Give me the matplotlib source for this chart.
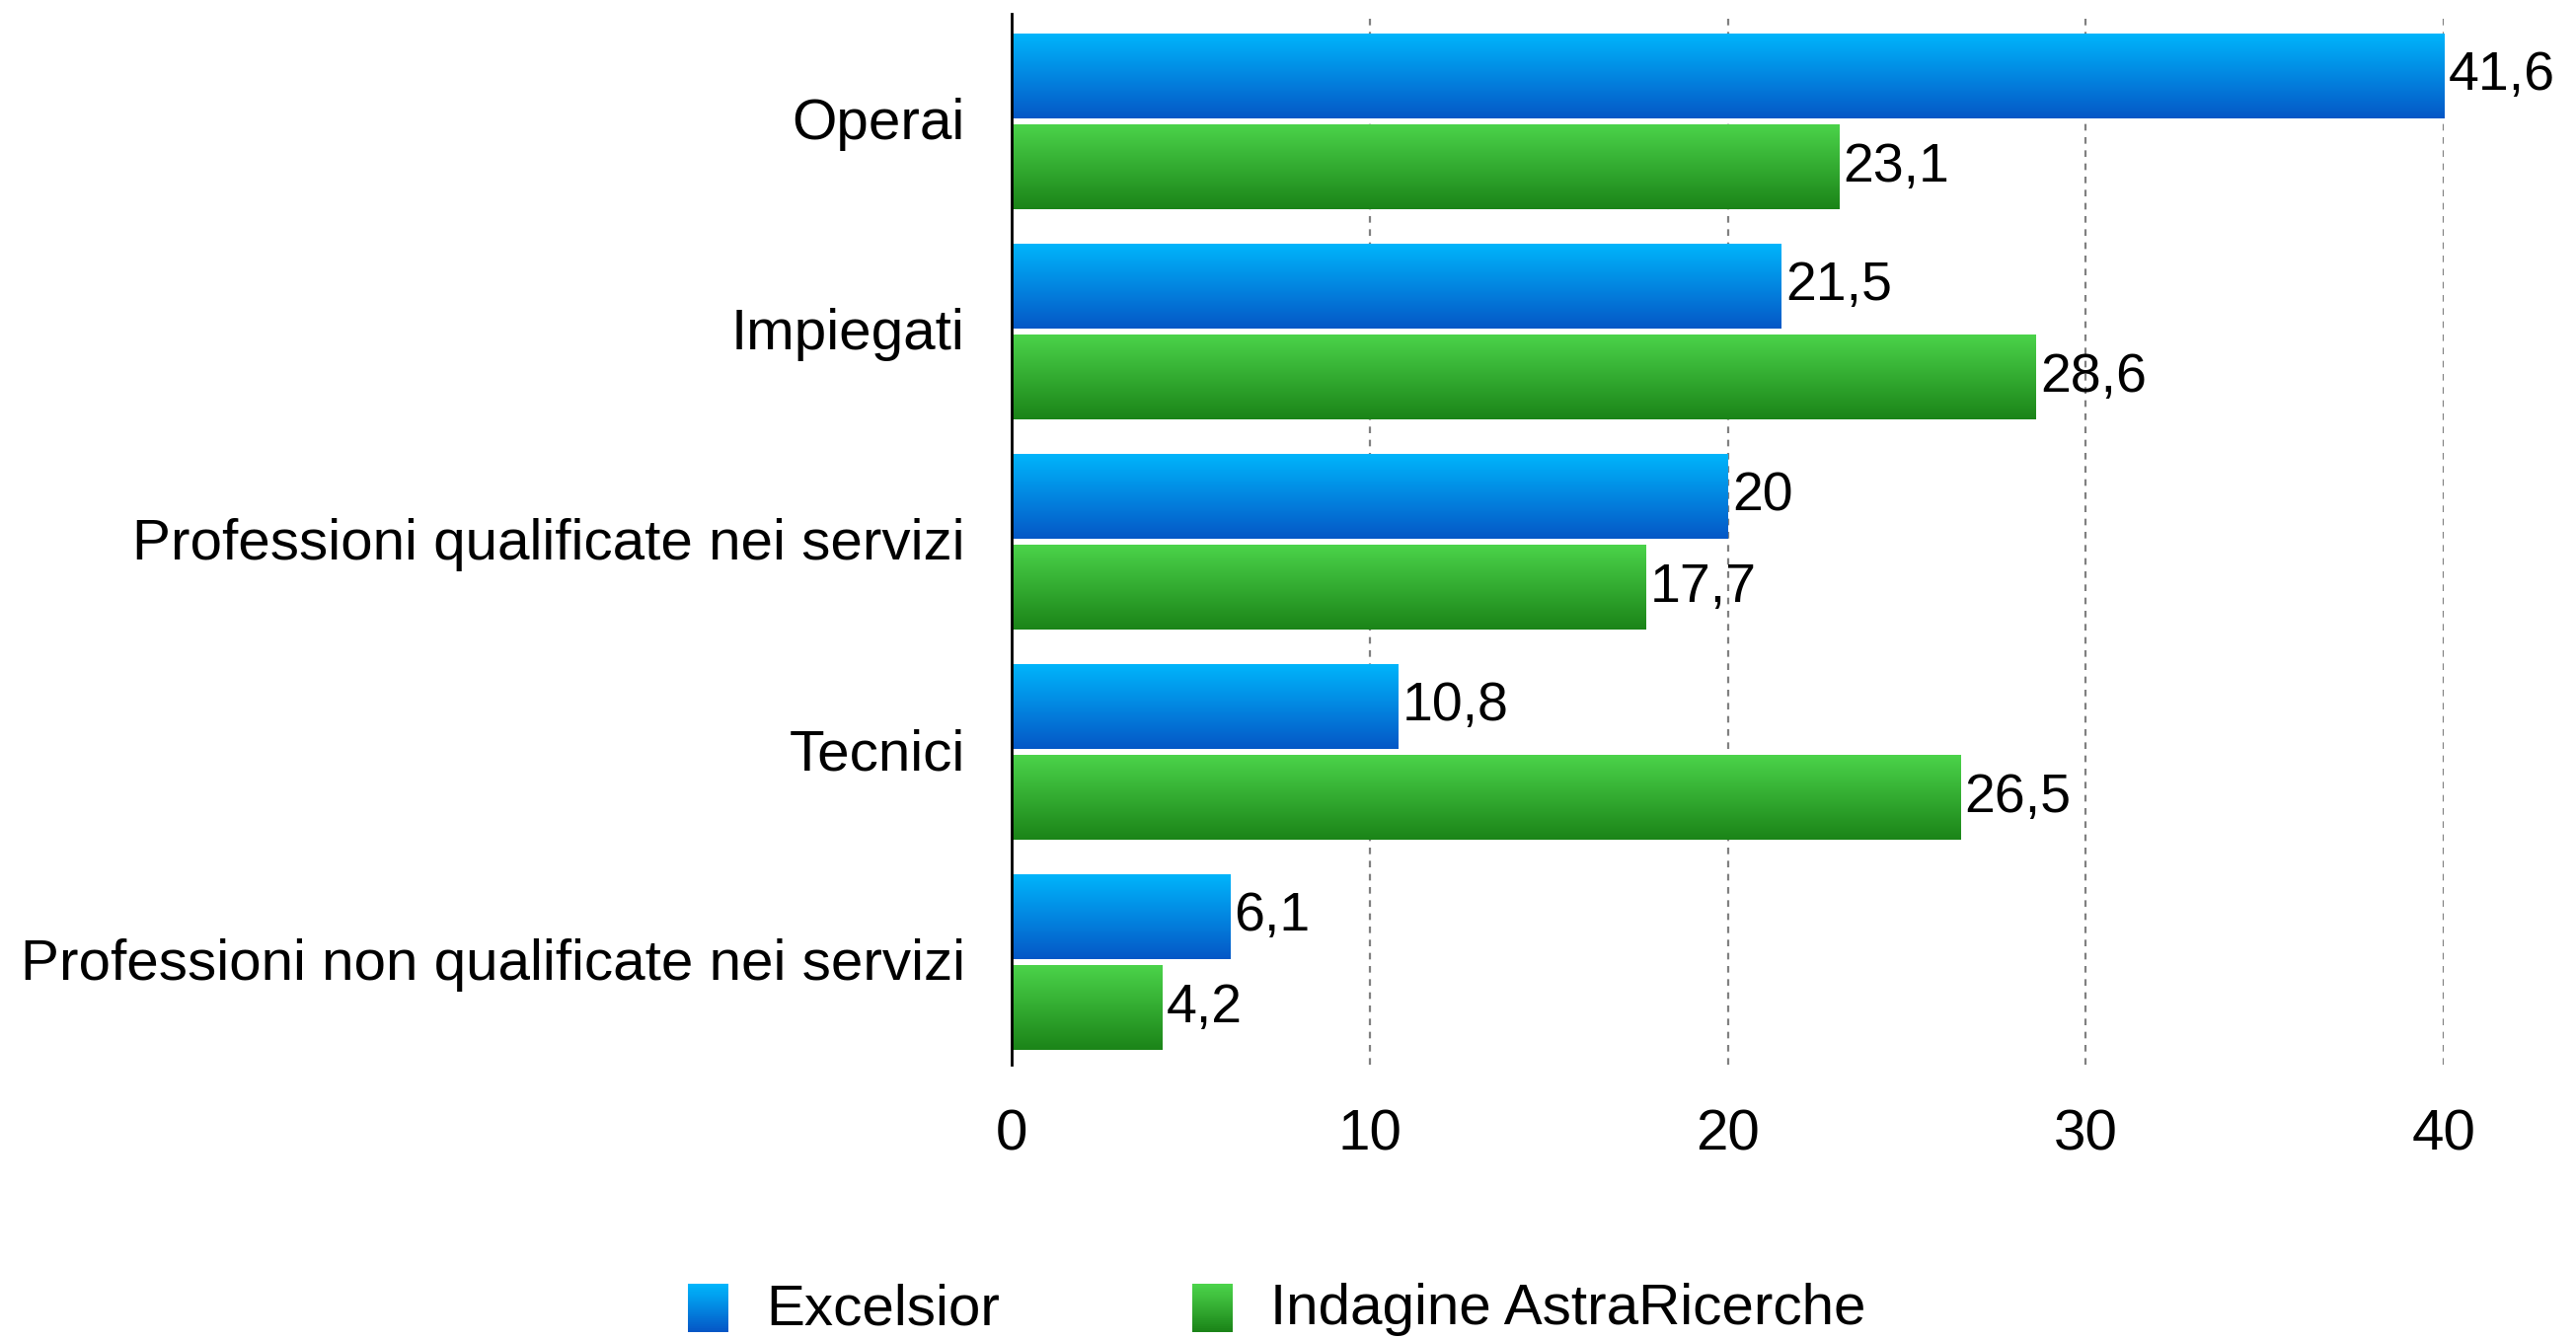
import numpy as np
import matplotlib.pyplot as plt
from matplotlib.colors import LinearSegmentedColormap
from matplotlib.patches import Rectangle
from matplotlib.legend_handler import HandlerBase

plt.rcParams["font.family"] = ["Liberation Sans", "DejaVu Sans"]

# --------------------------------------------------------------------------
# dati
# --------------------------------------------------------------------------
categories = [
    "Operai",
    "Impiegati",
    "Professioni qualificate nei servizi",
    "Tecnici",
    "Professioni non qualificate nei servizi",
]
excelsior = [41.6, 21.5, 20, 10.8, 6.1]
astraricerche = [23.1, 28.6, 17.7, 26.5, 4.2]
series_names = ["Excelsior", "Indagine AstraRicerche"]
x_ticks = [0, 10, 20, 30, 40]

# gradienti (alto -> basso)
blue_grad = ("#00b5fb", "#0557c6")
green_grad = ("#4bd34a", "#1b8418")

X_MAX = 40
BAR_H = 0.40
OFFSET = 0.217
SHIFT = 0.015


def fmt(v):
    return f"{v:g}".replace(".", ",")


def gradient_bars(ax, ys, vals, grad):
    cmap = LinearSegmentedColormap.from_list("g", [grad[0], grad[1]])
    grad_img = np.linspace(0, 1, 256).reshape(-1, 1)
    bars = ax.barh(ys, vals, height=BAR_H, color="none", edgecolor="none")
    for b in bars:
        x0, y0 = b.get_x(), b.get_y()
        w, h = b.get_width(), b.get_height()
        im = ax.imshow(grad_img, cmap=cmap, aspect="auto",
                       extent=(x0, x0 + w, y0 + h, y0), origin="upper",
                       zorder=2, interpolation="bilinear")
        im.set_clip_path(b)
        im.set_clip_box(ax.bbox)  # taglia la barra oltre 40
    return bars


class GradientHandler(HandlerBase):
    def __init__(self, grad, n=24):
        super().__init__()
        self.grad = grad
        self.n = n

    def create_artists(self, legend, orig_handle, xdescent, ydescent,
                       width, height, fontsize, trans):
        cmap = LinearSegmentedColormap.from_list("g", [self.grad[0], self.grad[1]])
        side = height * 1.2
        w = side * 0.85
        x0 = -xdescent + (width - w) / 2
        y0 = -ydescent - height * 0.2
        arts = []
        for i in range(self.n):
            c = cmap(1 - i / (self.n - 1))
            r = Rectangle((x0, y0 + side * i / self.n), w, side / self.n + 0.5,
                          facecolor=c, edgecolor="none", transform=trans)
            arts.append(r)
        return arts


fig = plt.figure(figsize=(26.1, 13.57), dpi=100)
ax = fig.add_axes([0.3927, 0.205, 0.5560, 0.785])

y = np.arange(len(categories))
y_blue = y - OFFSET + SHIFT
y_green = y + OFFSET + SHIFT
gradient_bars(ax, y_blue, excelsior, blue_grad)
gradient_bars(ax, y_green, astraricerche, green_grad)

for yi, v in zip(y_blue, excelsior):
    ax.text(min(v, X_MAX) + 0.12, yi, fmt(v), va="center", ha="left",
            fontsize=40, color="black", clip_on=False, zorder=4)
for yi, v in zip(y_green, astraricerche):
    ax.text(min(v, X_MAX) + 0.12, yi, fmt(v), va="center", ha="left",
            fontsize=40, color="black", clip_on=False, zorder=4)

ax.set_xlim(0, X_MAX)
ax.set_ylim(len(categories) - 0.5, -0.5)
ax.set_xticks(x_ticks)
ax.set_xticklabels([str(t) for t in x_ticks], fontsize=42)
ax.set_yticks(y)
ax.set_yticklabels(categories, fontsize=42)
ax.tick_params(axis="both", length=0)
ax.tick_params(axis="x", pad=32)
ax.tick_params(axis="y", pad=34)

for t in x_ticks[1:]:
    ax.axvline(t, color="#808080", linestyle=(0, (3, 3)), linewidth=1.6,
               zorder=1)

for side in ("top", "right", "bottom"):
    ax.spines[side].set_visible(False)
ax.spines["left"].set_linewidth(2)
ax.spines["left"].set_zorder(5)

h1 = Rectangle((0, 0), 1, 1)
h2 = Rectangle((0, 0), 1, 1)
fig.legend([h1, h2], series_names,
           handler_map={h1: GradientHandler(blue_grad),
                        h2: GradientHandler(green_grad)},
           loc="center", bbox_to_anchor=(0.494, 0.022), ncol=2,
           frameon=False, fontsize=42, handlelength=1.0, handletextpad=0.5,
           columnspacing=3.2)

fig.savefig("out.png", dpi=100)
